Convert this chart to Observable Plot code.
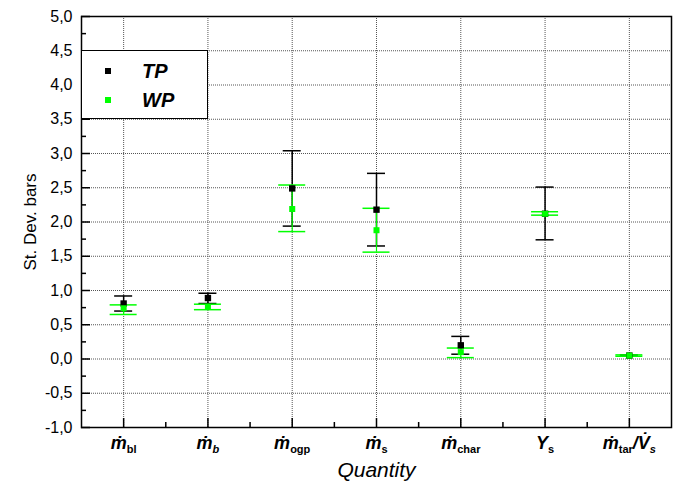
<!DOCTYPE html>
<html><head><meta charset="utf-8">
<script src="https://cdn.jsdelivr.net/npm/d3@7"></script>
<script src="https://cdn.jsdelivr.net/npm/@observablehq/plot@0.6"></script>
<style>
body{margin:0;background:#fff;}
#wrap{position:relative;width:678px;height:487px;font-family:"Liberation Sans",Arial,sans-serif;}
#legend{position:absolute;left:81px;top:50px;width:127px;height:69px;border:1.5px solid #000;background:#fff;box-sizing:border-box;}
#legend .sq{position:absolute;width:6px;height:6px;}
#legend .lb{position:absolute;font-weight:bold;font-style:italic;font-size:20px;line-height:20px;}
</style>
</head><body>
<div id="wrap"><div id="chart"></div>
<div id="legend">
  <div class="sq" style="left:23px;top:17px;background:#000"></div>
  <div class="lb" style="left:60px;top:10px;">TP</div>
  <div class="sq" style="left:23px;top:46px;background:#00ff00"></div>
  <div class="lb" style="left:60px;top:39px;">WP</div>
</div></div>
<script>
// categories (x positions 1..7)
const labelMain = ["ṁ","ṁ","ṁ","ṁ","ṁ","Y","ṁ"];
const labelSub  = ["bl","b","ogp","s","char","s","tar"];
const subItalic = [false,true,false,false,false,false,false];
// TP series
const tpMean = [0.81, 0.89, 2.49, 2.18, 0.20, 2.12, 0.05];
const tpLo   = [0.70, 0.81, 1.94, 1.65, 0.07, 1.74, 0.04];
const tpHi   = [0.92, 0.96, 3.04, 2.71, 0.33, 2.51, 0.06];
// WP series
const wpMean = [0.74, 0.76, 2.19, 1.88, 0.10, 2.12, 0.05];
const wpLo   = [0.65, 0.72, 1.86, 1.56, 0.02, 2.10, 0.04];
const wpHi   = [0.79, 0.80, 2.54, 2.20, 0.16, 2.15, 0.06];
// y ticks
const yMajor = [-1,-0.5,0,0.5,1,1.5,2,2.5,3,3.5,4,4.5,5];
const yMinor = [-0.75,-0.25,0.25,0.75,1.25,1.75,2.25,2.75,3.25,3.75,4.25,4.75];

const idx = labelMain.map((_, k) => k + 1);
const xMinor = idx.slice(0, -1).map(i => i + 0.5);
const rows = idx.map((i, k) => ({i, tpMean: tpMean[k], tpLo: tpLo[k], tpHi: tpHi[k], wpMean: wpMean[k], wpLo: wpLo[k], wpHi: wpHi[k]}));
const fmt = d => d.toFixed(1).replace(".", ",");
const green = "#00ff00";
const grid = {stroke: "#555", strokeOpacity: 1, strokeDasharray: "1,1", strokeWidth: 1};

const svg = Plot.plot({
  width: 678, height: 487,
  marginLeft: 81, marginRight: 7, marginTop: 16, marginBottom: 60,
  x: {type: "linear", domain: [0.5, 7.5]},
  y: {domain: [-1, 5]},
  style: {fontFamily: "'Liberation Sans', Arial, sans-serif", fontSize: "16px", color: "#000", background: "#fff"},
  marks: [
    Plot.gridY(yMajor, grid),
    Plot.gridX(idx, grid),
    Plot.axisY(yMajor, {tickSize: 0, tickPadding: 9, tickFormat: fmt, fontSize: 16, label: null}),
    Plot.axisY(yMajor, {tickSize: -9, text: null, label: null, strokeWidth: 1.5}),
    Plot.axisY(yMinor, {tickSize: -5, text: null, label: null, strokeWidth: 1.5}),
    Plot.axisX(idx, {tickSize: 0, tickPadding: 10, tickFormat: i => labelMain[i - 1], label: null}),
    Plot.axisX(idx, {tickSize: -9, text: null, label: null, strokeWidth: 1.5}),
    Plot.axisX(xMinor, {tickSize: -5, text: null, label: null, strokeWidth: 1.5}),
    Plot.frame({stroke: "#000", strokeWidth: 1.5}),
    // TP error bars
    Plot.ruleX(rows, {x: "i", y1: "tpLo", y2: "tpHi", stroke: "#000", strokeWidth: 1.5}),
    Plot.ruleY(rows, {x1: "i", x2: "i", y: "tpLo", insetLeft: -9, insetRight: -9, stroke: "#000", strokeWidth: 1.5}),
    Plot.ruleY(rows, {x1: "i", x2: "i", y: "tpHi", insetLeft: -9, insetRight: -9, stroke: "#000", strokeWidth: 1.5}),
    // WP error bars
    Plot.ruleX(rows, {x: "i", y1: "wpLo", y2: "wpHi", stroke: green, strokeWidth: 1.2}),
    Plot.ruleY(rows, {x1: "i", x2: "i", y: "wpLo", insetLeft: -13.5, insetRight: -13.5, stroke: green, strokeWidth: 1.5}),
    Plot.ruleY(rows, {x1: "i", x2: "i", y: "wpHi", insetLeft: -13.5, insetRight: -13.5, stroke: green, strokeWidth: 1.5}),
    Plot.dot(rows, {x: "i", y: "tpMean", symbol: "square", fill: "#000", r: 3.6}),
    Plot.dot(rows, {x: "i", y: "wpMean", symbol: "square", fill: green, r: 3.4}),
    Plot.text(["St. Dev. bars"], {frameAnchor: "left", textAnchor: "middle", rotate: -90, dx: -51, fontSize: 17}),
    Plot.text(["Quantity"], {frameAnchor: "bottom", lineAnchor: "middle", dy: 43, fontSize: 21, fontStyle: "italic"})
  ]
});
document.getElementById("chart").appendChild(svg);

// rich tick labels with subscripts
d3.select(svg).selectAll('g[aria-label="x-axis tick label"] text').each(function(_, k) {
  const t = d3.select(this);
  t.text(null);
  t.append("tspan").attr("font-weight", "bold").attr("font-style", "italic").attr("font-size", 18).text(labelMain[k]);
  t.append("tspan").attr("font-weight", "bold").attr("font-style", subItalic[k] ? "italic" : "normal")
    .attr("font-size", 11).attr("dy", 4).text(labelSub[k]);
  if (k === labelMain.length - 1) {
    t.append("tspan").attr("font-weight", "bold").attr("font-style", "italic").attr("font-size", 18).attr("dy", -4).text("/V\u0307");
    t.append("tspan").attr("font-weight", "bold").attr("font-style", "italic").attr("font-size", 11).attr("dy", 4).text("s");
  }
});
</script>
</body></html>
